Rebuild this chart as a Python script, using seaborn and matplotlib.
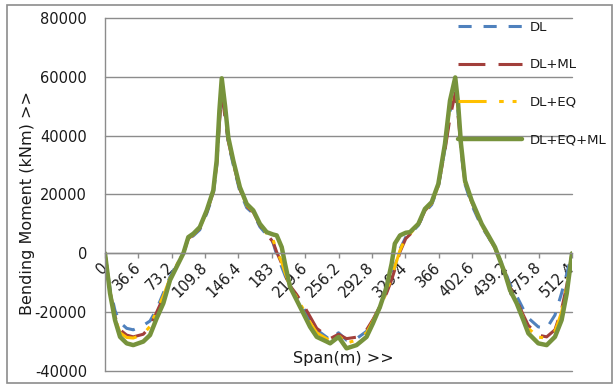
import numpy as np
import pandas as pd
import matplotlib
matplotlib.use("Agg")
import matplotlib.pyplot as plt
import seaborn as sns
from matplotlib.patches import Rectangle

# ---------------- data ----------------
span = [0, 5.5, 11, 16.5, 23.8, 31, 42, 49.4, 56.7, 64, 71.3, 78.6, 86, 91.4, 97, 104,
        111.6, 118.8, 122.5, 125.5, 128.1, 131.8, 135.3, 140.8, 148, 155.5, 162.7, 170,
        177.4, 184.5, 188.4, 193.9, 197.5, 203, 210.3, 217.6, 225, 232.3, 243.2, 247,
        256.2, 265, 276, 287, 294, 301.7, 309, 314.5, 318, 323.7, 330, 334.6, 343.8, 351,
        358.4, 365.7, 373, 378.5, 384.3, 387.5, 390.6, 395, 402.3, 413.3, 420.6, 427.9,
        433.4, 438.9, 444.4, 451.7, 459, 464.5, 475.4, 484.6, 493.7, 501, 506.6, 512.4]

dl_eq_ml = [0, -13600, -22700, -28400, -30600, -31200, -30000, -27800, -22100, -17000,
            -9150, -4600, 0, 5500, 6700, 8900, 14600, 21400, 31500, 48500, 59500, 50000,
            39400, 31500, 22500, 16800, 14600, 10000, 7200, 6400, 6100, 2100, -3500,
            -11400, -15900, -20400, -25000, -28400, -30000, -30600, -28400, -32300,
            -31200, -28400, -23800, -18200, -11400, -3500, 3300, 6100, 7000, 7200, 10000,
            15100, 17400, 23600, 37200, 51900, 59800, 50700, 37200, 24700, 18000, 10000,
            6100, 2100, -2400, -6900, -12500, -17000, -22700, -27200, -30600, -31200,
            -28400, -22700, -13700, 0]

dl = [0, -12000, -19500, -23500, -25500, -26000, -24500, -23000, -19000, -13500,
      -8000, -3800, 0, 4800, 6000, 8000, 13500, 20000, 29500, 45000, 57000, 47000,
      37500, 30000, 21000, 15500, 13500, 9000, 6300, 3500, -500, -4600, -7500,
      -11500, -14500, -18500, -22500, -26000, -28500, -29500, -27000, -29500,
      -29000, -26500, -23000, -18500, -13000, -8500, -4500, 1500, 5500, 6500, 9500,
      14000, 16500, 22500, 35500, 48000, 57000, 47500, 35000, 23500, 16500, 9000,
      5500, 1500, -2000, -6000, -10500, -14500, -19000, -22000, -25000, -25500,
      -21000, -13500, -7000, 0]

dl_ml = [0, -13000, -21500, -26000, -27800, -28400, -27500, -25000, -20000, -15000,
         -8800, -4400, 0, 5000, 6300, 8500, 14000, 20800, 30000, 44000, 54500, 46000,
         38000, 30500, 21800, 16000, 14000, 9500, 6600, 3800, 400, -3500, -6800,
         -11000, -14000, -17500, -21500, -25500, -28000, -29000, -27500, -29000,
         -28500, -26000, -22500, -18000, -13500, -9000, -5500, 500, 5000, 6400, 9500,
         14500, 17000, 23000, 35000, 46000, 54500, 46500, 36000, 24000, 17500, 9500,
         5800, 1800, -2500, -6500, -11500, -16000, -21000, -24500, -27800, -28400,
         -26000, -19000, -11000, 0]

dl_eq = [0, -13200, -22000, -27000, -28600, -28800, -27500, -24800, -19500, -14500,
         -8500, -4000, 200, 5200, 6400, 8700, 14200, 21000, 31000, 47500, 59000, 49000,
         39000, 31000, 22000, 16300, 14200, 9700, 6800, 4500, 1000, -3000, -6500,
         -11200, -15000, -19000, -23500, -27000, -29000, -29800, -28000, -30500,
         -29500, -27000, -23000, -18500, -13000, -8000, -4500, 1000, 5500, 6600, 9800,
         14700, 17000, 23000, 36500, 50500, 59000, 49500, 36500, 24200, 17500, 9500,
         5800, 1800, -2500, -7000, -12500, -16800, -22000, -25500, -28500, -28800,
         -26500, -20000, -11500, 0]

series_names = ["DL", "DL+ML", "DL+EQ", "DL+EQ+ML"]
series_values = [dl, dl_ml, dl_eq, dl_eq_ml]

xtick_labels = ["0", "36.6", "73.2", "109.8", "146.4", "183", "219.6", "256.2",
                "292.8", "329.4", "366", "402.6", "439.2", "475.8", "512.4"]
ytick_values = [-40000, -20000, 0, 20000, 40000, 60000, 80000]

# ---------------- style ----------------
colors = {"DL": "#4F81BD", "DL+ML": "#A23F3B", "DL+EQ": "#FFC000", "DL+EQ+ML": "#77933C"}
widths = {"DL": 2.2, "DL+ML": 2.2, "DL+EQ": 2.2, "DL+EQ+ML": 3.2}
styles = {"DL": (0, (4.3, 3.9)),
          "DL+ML": (0, (8.8, 4.3)),
          "DL+EQ": (0, (9.2, 4.1, 1.5, 2.9, 1.3, 4.3)),
          "DL+EQ+ML": "-"}

sns.set_theme(style="white")
plt.rcParams["font.family"] = ["DejaVu Sans"]

W, H = 614, 385
fig = plt.figure(figsize=(W / 100, H / 100), dpi=100)
ax = fig.add_axes([105 / W, 1 - 371 / H, (572 - 105) / W, (371 - 18) / H])

# spine placement first (it resets tick objects)
grid_c = "#8c8c8c"
for s in ["top", "right"]:
    ax.spines[s].set_visible(False)
ax.spines["bottom"].set_position(("data", 0))
ax.spines["bottom"].set_color(grid_c)
ax.spines["left"].set_color(grid_c)
ax.spines["bottom"].set_linewidth(1.0)
ax.spines["left"].set_linewidth(1.0)

df = pd.concat([pd.DataFrame({"Span": span, "Moment": v, "Case": n})
                for n, v in zip(series_names, series_values)], ignore_index=True)

for name in series_names:
    sub = df[df["Case"] == name]
    sns.lineplot(data=sub, x="Span", y="Moment", ax=ax, color=colors[name],
                 linewidth=widths[name], linestyle=styles[name], label=name,
                 estimator=None, sort=False, solid_joinstyle="round",
                 dash_joinstyle="round")

xt = [float(s) for s in xtick_labels]
ax.set_xlim(xt[0], xt[-1])
ax.set_ylim(ytick_values[0], ytick_values[-1])
ax.set_xticks(xt)
ax.set_xticklabels(xtick_labels, rotation=45, ha="right", rotation_mode="anchor",
                   va="center", fontsize=10.5, color="#1a1a1a")
ax.set_yticks(ytick_values)
ax.set_yticklabels([str(v) for v in ytick_values], fontsize=10.5, color="#1a1a1a")

ax.grid(axis="y", color=grid_c, linewidth=1.0)
ax.grid(axis="x", visible=False)
ax.set_axisbelow(True)
for gl in ax.get_ygridlines():
    gl.set_clip_on(False)
ax.tick_params(axis="x", direction="out", length=3.5, width=1.0, color=grid_c,
               pad=5, bottom=True)
ax.tick_params(axis="y", length=0, pad=13)
ax.set_xlabel("")
ax.set_ylabel("")

fig.text(28 / W, 1 - 203 / H, "Bending Moment (kNm) >>", rotation=90,
         ha="center", va="center", fontsize=11.5, color="#1a1a1a")
fig.text(343 / W, 1 - 358 / H, "Span(m) >>", ha="center", va="center",
         fontsize=11.5, color="#1a1a1a")

leg = ax.legend(loc="upper left", bbox_to_anchor=(458 / W, 1 - 21 / H),
                bbox_transform=fig.transFigure, frameon=False, fontsize=9.5,
                handlelength=4.85, handletextpad=0.6, labelspacing=1.85,
                borderpad=0, borderaxespad=0)
for t in leg.get_texts():
    t.set_color("#1a1a1a")

fig.patches.append(Rectangle((7 / W, 2 / H), (612 - 7) / W, (380 - 2) / H,
                             transform=fig.transFigure, fill=False,
                             edgecolor="#8c8c8c", linewidth=1.2))

fig.savefig("out.png", dpi=100)
